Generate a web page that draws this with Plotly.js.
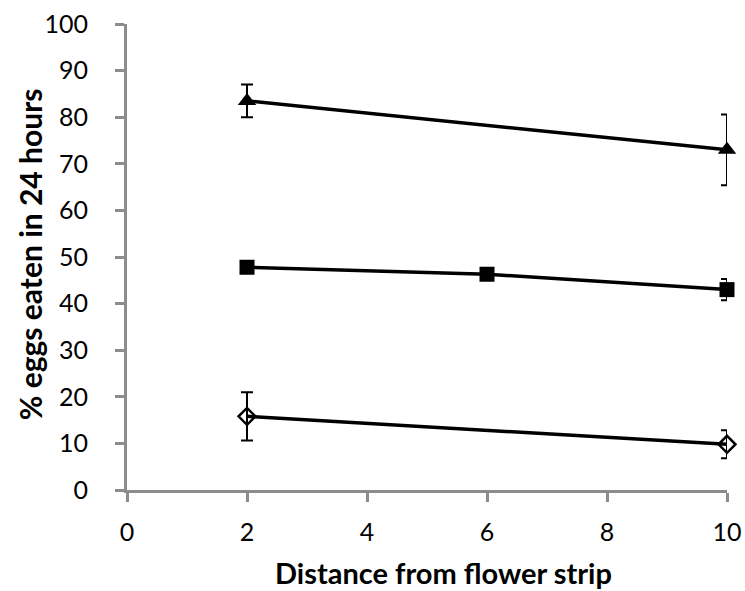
<!DOCTYPE html>
<html><head><meta charset="utf-8">
<script src="https://cdn.plot.ly/plotly-3.0.1.min.js"></script>
<style>body{margin:0;background:#fff}#c{width:745px;height:591px}</style>
</head><body><div id="c"></div>
<script>
const xTri = [2, 10];
const yTri = [83.5, 73];
const eTri = [3.5, 7.6];
const xSq = [2, 6, 10];
const ySq = [47.8, 46.3, 43];
const eSq = [0.8, 0.8, 2.3];
const xDia = [2, 10];
const yDia = [15.8, 9.8];
const eDia = [5.2, 3.0];
const xTicks = [0, 2, 4, 6, 8, 10];
const yTicks = [0, 10, 20, 30, 40, 50, 60, 70, 80, 90, 100];
const xTitle = 'Distance from flower strip';
const yTitle = '% eggs eaten in 24 hours';

const font = 'Lato, "Open Sans", sans-serif';
function tr(x, y, e, marker) {
  return {
    x: x, y: y, type: 'scatter', mode: 'lines+markers',
    line: {color: '#000', width: 3.5},
    marker: marker,
    error_y: {type: 'data', array: e, visible: true, color: '#000', thickness: 2, width: 6},
    showlegend: false, cliponaxis: false
  };
}
const data = [
  tr(xDia, yDia, eDia, {symbol: 'diamond-open', size: 13, color: '#000', line: {width: 2.5, color: '#000'}}),
  tr(xSq, ySq, eSq, {symbol: 'square', size: 15, color: '#000'}),
  tr(xTri, yTri, eTri, {symbol: 'triangle-up', size: 16, color: '#000'})
];
const axCommon = {
  showgrid: false, zeroline: false, showline: true, linecolor: '#8c8c8c', linewidth: 3,
  ticks: 'outside', ticklen: 9, tickwidth: 3, tickcolor: '#8c8c8c',
  tickfont: {size: 25, family: font, color: '#000'}
};
const layout = {
  width: 745, height: 591,
  margin: {l: 127, r: 18, t: 24, b: 101},
  paper_bgcolor: '#fff', plot_bgcolor: '#fff',
  font: {family: font, color: '#000', size: 25},
  xaxis: Object.assign({}, axCommon, {
    range: [0, 10], tickvals: xTicks, ticktext: xTicks.map(String),
    ticklabelstandoff: 9
  }),
  yaxis: Object.assign({}, axCommon, {
    range: [0, 100], tickvals: yTicks, ticktext: yTicks.map(String),
    ticklabelstandoff: 22
  }),
  annotations: [
    {text: '<b>' + xTitle + '</b>', xref: 'paper', yref: 'paper', x: 0.528, y: -0.178,
     xanchor: 'center', yanchor: 'middle', showarrow: false, font: {size: 29, family: font, color: '#000'}},
    {text: '<b>' + yTitle + '</b>', xref: 'paper', yref: 'paper', x: -0.1617, y: 0.506, textangle: -90,
     xanchor: 'center', yanchor: 'middle', showarrow: false, font: {size: 30, family: font, color: '#000'}}
  ]
};
Plotly.newPlot('c', data, layout, {displayModeBar: false, staticPlot: true});
</script></body></html>
